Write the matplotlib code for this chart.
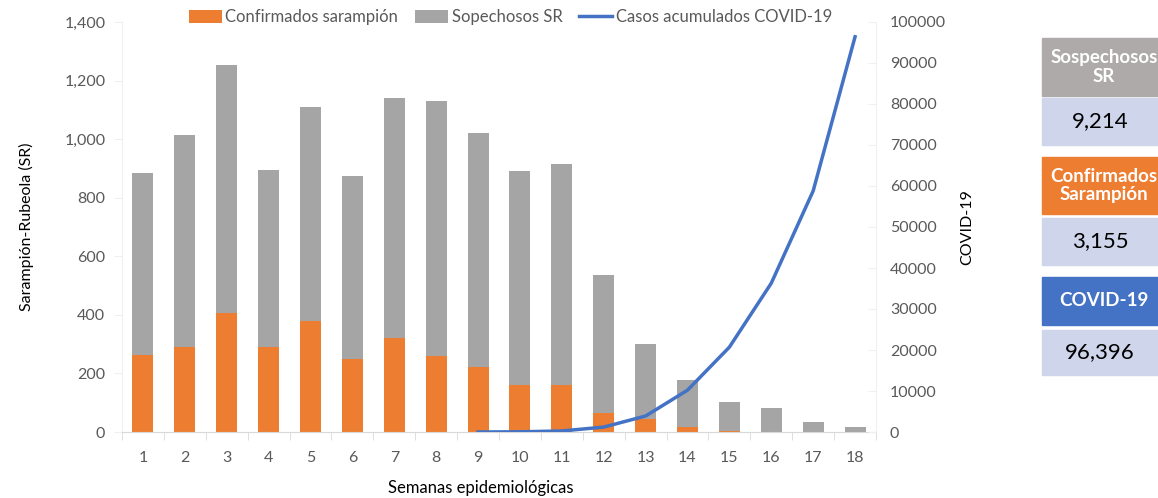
import matplotlib
matplotlib.use("Agg")
import matplotlib.pyplot as plt
from matplotlib.patches import Rectangle
from matplotlib.ticker import FuncFormatter, MultipleLocator

plt.rcParams['font.family'] = ['Lato', 'DejaVu Sans']

weeks = list(range(1, 19))
confirmados = [263, 290, 406, 290, 379, 249, 321, 259, 222, 160, 160, 65, 44, 17, 3, 0, 0, 0]
totales = [884, 1014, 1253, 895, 1110, 874, 1140, 1130, 1021, 891, 915, 536, 300, 178, 102, 82, 34, 17]
sospechosos = [t - c for t, c in zip(totales, confirmados)]
covid_weeks = [9, 10, 11, 12, 13, 14, 15, 16, 17, 18]
covid = [0, 50, 250, 1200, 3900, 10200, 20700, 36300, 58800, 96396]

box_titles = ["Sospechosos\nSR", "Confirmados\nSarampión", "COVID-19"]
box_values = ["9,214", "3,155", "96,396"]

W, H = 1158, 498
fig = plt.figure(figsize=(W / 100, H / 100), dpi=100)
ax = fig.add_axes([122 / W, 1 - 432 / H, (876 - 122) / W, (432 - 22) / H])
ax2 = ax.twinx()

orange = '#ED7D31'
gray = '#A5A5A5'
blue = '#4472C4'
txt = '#595959'
spine = '#D9D9D9'

b1 = ax.bar(weeks, confirmados, width=0.5, color=orange, label='Confirmados sarampión', zorder=2)
b2 = ax.bar(weeks, sospechosos, width=0.5, bottom=confirmados, color=gray, label='Sopechosos SR', zorder=2)
l1, = ax2.plot(covid_weeks, covid, color=blue, lw=2.5, label='Casos acumulados COVID-19', zorder=3)

ax.set_xlim(0.5, 18.5)
ax.set_ylim(0, 1400)
ax2.set_ylim(0, 100000)
ax.yaxis.set_major_locator(MultipleLocator(200))
ax.yaxis.set_major_formatter(FuncFormatter(lambda v, p: f"{int(v):,}"))
ax2.yaxis.set_major_locator(MultipleLocator(10000))
ax2.yaxis.set_major_formatter(FuncFormatter(lambda v, p: f"{int(v)}"))
ax.set_xticks(weeks)
ax.set_xticks([w + 0.5 for w in range(0, 18)] + [18.5], minor=True)

for a in (ax, ax2):
    for s in a.spines.values():
        s.set_visible(False)
ax.spines['bottom'].set_visible(True)
ax.spines['bottom'].set_color(spine)
ax.spines['left'].set_visible(True)
ax.spines['left'].set_color('#F0F0F0')
ax2.spines['right'].set_visible(True)
ax2.spines['right'].set_color('#F0F0F0')

ax.tick_params(axis='x', which='major', length=0, labelsize=11.5, labelcolor=txt, pad=14)
ax.tick_params(axis='x', which='minor', length=6, color=spine, direction='out')
ax.tick_params(axis='y', length=6, color='#F0F0F0', labelsize=11.5, labelcolor=txt, pad=6)
ax2.tick_params(axis='y', length=6, color='#F0F0F0', labelsize=11.5, labelcolor=txt, pad=10, direction='in')

ax.set_ylabel('Sarampión-Rubeola (SR)', fontsize=11.5, color='black', labelpad=22)
ax2.set_ylabel('COVID-19', fontsize=11.5, color='black', labelpad=10)
fig.text(481 / W, 1 - 488 / H, 'Semanas epidemiológicas', fontsize=12, color='black',
         ha='center', va='center')

leg = ax.legend([b1, b2, l1], ['Confirmados sarampión', 'Sopechosos SR', 'Casos acumulados COVID-19'],
                loc='lower center', bbox_to_anchor=(0.515, 0.955), ncol=3, frameon=False,
                fontsize=12, handlelength=2.0, handleheight=0.8, columnspacing=1.0, handletextpad=0.2)
for t in leg.get_texts():
    t.set_color(txt)

# Right-side summary boxes
header_colors = ['#AEAAAA', orange, blue]
headers = [(38, 96), (157, 214), (277, 325)]
values = [(98, 145), (218, 265), (330, 375)]
x0, x1 = 1042, 1162
for title, val, hc, (ht, hb), (vt, vb) in zip(box_titles, box_values, header_colors, headers, values):
    fig.patches.append(Rectangle((x0 / W, 1 - hb / H), (x1 - x0) / W, (hb - ht) / H,
                                 transform=fig.transFigure, color=hc))
    fig.patches.append(Rectangle((x0 / W, 1 - vb / H), (x1 - x0) / W, (vb - vt) / H,
                                 transform=fig.transFigure, color='#CFD5EA'))
    fig.text((x0 + 62) / W, 1 - (ht + hb) / 2 / H, title, ha='center', va='center',
             color='white', fontsize=13.5, fontweight='bold', linespacing=1.1)
    fig.text((x0 + 58) / W, 1 - (vt + vb) / 2 / H, val, ha='center', va='center',
             color='black', fontsize=16)

fig.savefig('out.png', dpi=100)
